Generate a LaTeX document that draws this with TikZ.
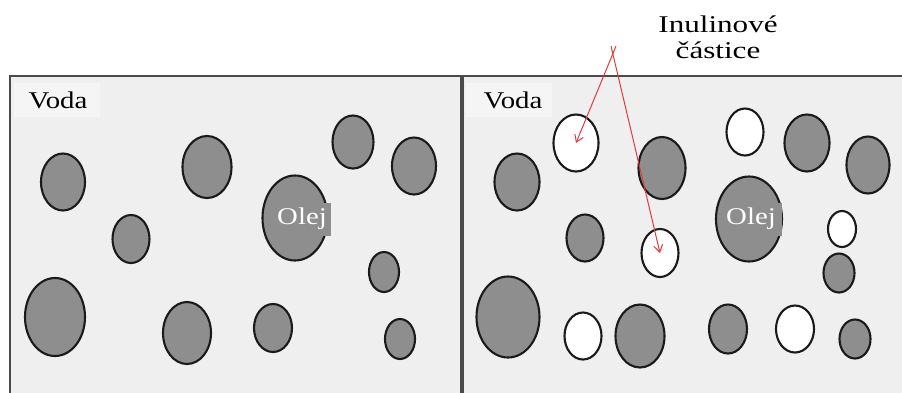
\documentclass[tikz,border=0pt]{standalone}
\usepackage{fontspec}
\setmainfont{Liberation Serif}
\usetikzlibrary{shapes.geometric,arrows.meta}
\definecolor{panel}{HTML}{EFEFEF}
\definecolor{oil}{HTML}{8E8E8E}
\definecolor{rim}{HTML}{1A1A1A}
\definecolor{frame}{HTML}{4A4A4A}
\definecolor{arrowred}{HTML}{E23A3A}
\tikzset{
  drop/.style args={#1/#2}{ellipse, draw=rim, line width=2.1pt, fill=oil, inner sep=0pt, minimum width=#1pt, minimum height=#2pt},
  inul/.style args={#1/#2}{drop=#1/#2, fill=white},
  lbl/.style={font=\fontsize{24}{26}\selectfont, xscale=1.2, inner sep=0pt},
  oillbl/.style={lbl, text=white},
  pointer/.style={draw=arrowred, line width=1pt, -{Straight Barb[length=7pt,width=9pt]}}
}
\begin{document}
\begin{tikzpicture}[x=1pt,y=-1pt]
\useasboundingbox (0,0) rectangle (902,392);
\fill[white] (0,0) rectangle (902,392);
% panels
\fill[panel] (10,76) rectangle (902,400);
\draw[frame, line width=2.8pt] (10,400) -- (10,76) -- (902,76);
\draw[frame, line width=3.2pt] (462,76) -- (462,400);
\fill[white!40!panel] (14,83) rectangle (100,117);
\fill[white!40!panel] (466,83) rectangle (552,117);
\node[lbl] (vodaL) at (58,100) {Voda};
\node[lbl] (vodaR) at (513,100) {Voda};
% left panel droplets
\node[drop=44/57] (l1) at (63,182) {};
\node[drop=49/62] (l2) at (207,167) {};
\node[drop=65/85] (l3) at (295,218) {};
\node[drop=41/53] (l4) at (353,142) {};
\node[drop=44/57] (l5) at (414,166) {};
\node[drop=37/48] (l6) at (131,239) {};
\node[drop=30/40] (l7) at (384,272) {};
\node[drop=60/78] (l8) at (55,317) {};
\node[drop=48/62] (l9) at (187,333) {};
\node[drop=38/48] (l10) at (273,328) {};
\node[drop=30/40] (l11) at (400,339) {};
\fill[oil] (272,203) rectangle (331,236);
\node[oillbl] (olejL) at (302,219) {Olej};
% right panel droplets
\node[drop=45/57] (r1) at (517,182) {};
\node[drop=47/62] (r2) at (662,168) {};
\node[drop=66/85] (r3) at (749,219) {};
\node[drop=45/57] (r4) at (807,143) {};
\node[drop=43/57] (r5) at (868,165) {};
\node[drop=37/47] (r6) at (585,238) {};
\node[drop=31/39] (r7) at (839,273) {};
\node[drop=63/81] (r8) at (508,317) {};
\node[drop=49/63] (r9) at (640,336) {};
\node[drop=38/49] (r10) at (728,329) {};
\node[drop=31/39] (r11) at (855,339) {};
\node[inul=45/57] (w1) at (576,143) {};
\node[inul=37/47] (w2) at (745,132) {};
\node[inul=37/48] (w3) at (660,253) {};
\node[inul=28/36] (w4) at (842,229) {};
\node[inul=37/47] (w5) at (583,336) {};
\node[inul=38/47] (w6) at (795,329) {};
\fill[oil] (726,203) rectangle (782,236);
\node[oillbl] (olejR) at (751,219) {Olej};
% label and pointers
\node[lbl, align=center, xscale=1.08] (inulin) at (718,37) {Inulinové\\částice};
\coordinate (s1) at (616,46);
\coordinate (s2) at (611,46);
\draw[pointer] (s1) -- (w1.center);
\draw[pointer] (s2) -- (w3.center);
\end{tikzpicture}
\end{document}
